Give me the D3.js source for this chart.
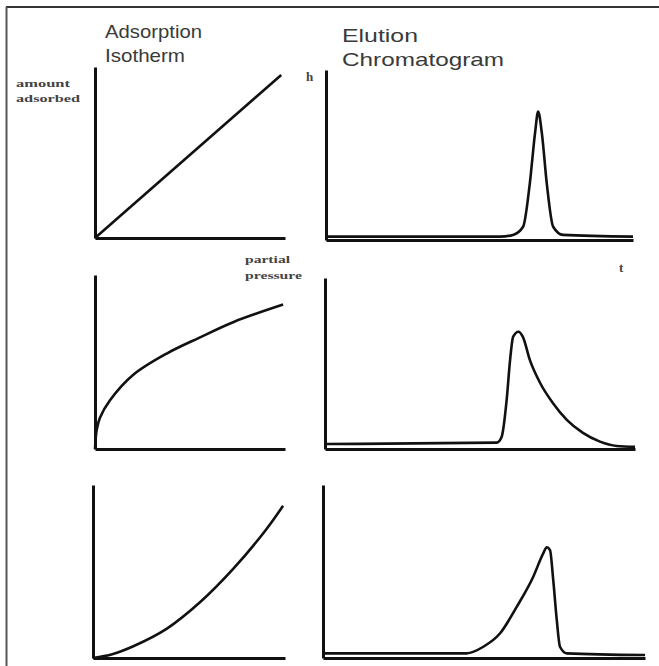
<!doctype html>
<html lang="en">
  <head>
    <meta charset="UTF-8" />
    <title>Adsorption isotherms and elution chromatograms</title>
    <style>
      body { margin: 0; background: #fff; }
      .axis path.domain { stroke: #111; stroke-width: 3; }
      .curve { fill: none; stroke: #111; stroke-width: 2.6; stroke-linejoin: round; }
    </style>
  </head>
  <body>
    <script src="https://d3js.org/d3.v7.min.js"></script>
    <script>
      /* global d3 */

      // isotherms: [partial pressure, amount adsorbed], both as fraction of axis length
      const isoLinear = [[0, 0], [0.98, 0.953]];
      const isoLangmuir = [
        [0, 0], [0.009, 0.11], [0.026, 0.18], [0.079, 0.28], [0.2, 0.425],
        [0.38, 0.55], [0.55, 0.64], [0.73, 0.73], [0.99, 0.83]
      ];
      const isoConvex = [
        [0, 0], [0.1, 0.022], [0.21, 0.068], [0.385, 0.17], [0.56, 0.325],
        [0.73, 0.515], [0.9, 0.74], [0.99, 0.88]
      ];

      // chromatograms: [t, h]
      const peakSymmetric = [
        [0, 0.02], [0.567, 0.02], [0.609, 0.03], [0.642, 0.078], [0.664, 0.335],
        [0.681, 0.63], [0.691, 0.755], [0.703, 0.63], [0.719, 0.335],
        [0.74, 0.078], [0.772, 0.03], [1.0, 0.02]
      ];
      const peakTailing = [
        [0, 0.029], [0.554, 0.037], [0.57, 0.072], [0.586, 0.287], [0.597, 0.52],
        [0.607, 0.657], [0.624, 0.686], [0.638, 0.657], [0.661, 0.52],
        [0.694, 0.386], [0.735, 0.269], [0.78, 0.17], [0.832, 0.094],
        [0.887, 0.043], [0.941, 0.018], [1.0, 0.013]
      ];
      const peakFronting = [
        [0, 0.027], [0.446, 0.027], [0.498, 0.065], [0.55, 0.143], [0.602, 0.297],
        [0.653, 0.47], [0.684, 0.605], [0.695, 0.64], [0.705, 0.624],
        [0.715, 0.451], [0.726, 0.22], [0.736, 0.065], [0.757, 0.027], [1.0, 0.017]
      ];

      const columnTitles = [["Adsorption", "Isotherm"], ["Elution", "Chromatogram"]];
      const yLabelIso = ["amount", "adsorbed"];
      const xLabelIso = ["partial", "pressure"];
      const yLabelChrom = "h";
      const xLabelChrom = "t";

      const width = 659, height = 666;

      const svg = d3.select("body").append("svg")
        .attr("width", width)
        .attr("height", height);

      // frame (only top and left edges are visible in the cropped figure)
      svg.append("line").attr("x1", 6).attr("x2", width).attr("y1", 7).attr("y2", 7)
        .attr("stroke", "#333").attr("stroke-width", 2);
      svg.append("line").attr("x1", 6.5).attr("x2", 6.5).attr("y1", 7).attr("y2", height)
        .attr("stroke", "#555").attr("stroke-width", 2);

      // box = [left, right, top, bottom]
      const panels = [
        { data: isoLinear, box: [95, 285, 67, 238], curve: d3.curveLinear },
        { data: peakSymmetric, box: [326, 633, 70, 240], curve: d3.curveMonotoneX },
        { data: isoLangmuir, box: [95, 285, 275, 449], curve: d3.curveCatmullRom },
        { data: peakTailing, box: [325, 635, 278, 449], curve: d3.curveMonotoneX },
        { data: isoConvex, box: [93, 285, 485, 658], curve: d3.curveCatmullRom },
        { data: peakFronting, box: [323, 645, 485, 658], curve: d3.curveMonotoneX }
      ];

      panels.forEach((p) => {
        const [x0, x1, top, bottom] = p.box;
        const x = d3.scaleLinear().domain([0, 1]).range([x0, x1]);
        const y = d3.scaleLinear().domain([0, 1]).range([bottom, top]);
        const g = svg.append("g");

        g.append("g").attr("class", "axis")
          .attr("transform", `translate(0,${bottom})`)
          .call(d3.axisBottom(x).tickValues([]).tickSizeOuter(0));
        g.append("g").attr("class", "axis")
          .attr("transform", `translate(${x0},0)`)
          .call(d3.axisLeft(y).tickValues([]).tickSizeOuter(0));

        const line = d3.line()
          .x((d) => x(d[0]))
          .y((d) => y(d[1]))
          .curve(p.curve);
        g.append("path").attr("class", "curve").attr("d", line(p.data));
      });

      // column titles: [x, baseline, width line 1, width line 2]
      const titleFont = "'Liberation Sans', Arial, sans-serif";
      [[105, 38, 97, 80], [342, 42, 76, 162]].forEach(([tx, ty, w1, w2], i) => {
        const t = svg.append("text")
          .attr("x", tx).attr("y", ty)
          .attr("font-family", titleFont)
          .attr("font-size", 19)
          .attr("fill", "#3a3a3a");
        t.append("tspan").attr("x", tx)
          .attr("textLength", w1).attr("lengthAdjust", "spacingAndGlyphs")
          .text(columnTitles[i][0]);
        t.append("tspan").attr("x", tx).attr("dy", 24)
          .attr("textLength", w2).attr("lengthAdjust", "spacingAndGlyphs")
          .text(columnTitles[i][1]);
      });

      // small axis labels
      const labelStyle = (sel) => sel
        .attr("font-family", "'Liberation Serif', 'Times New Roman', serif")
        .attr("font-weight", "bold")
        .attr("font-size", 10)
        .attr("fill", "#444")
        .attr("lengthAdjust", "spacingAndGlyphs");

      svg.append("text").attr("x", 16).attr("y", 87).attr("textLength", 54)
        .call(labelStyle).text(yLabelIso[0]);
      svg.append("text").attr("x", 16).attr("y", 102).attr("textLength", 64)
        .call(labelStyle).text(yLabelIso[1]);
      svg.append("text").attr("x", 245).attr("y", 263).attr("textLength", 45)
        .call(labelStyle).text(xLabelIso[0]);
      svg.append("text").attr("x", 245).attr("y", 279).attr("textLength", 57)
        .call(labelStyle).text(xLabelIso[1]);
      svg.append("text").attr("x", 306).attr("y", 81).attr("font-size", 13)
        .call(labelStyle).attr("font-size", 13).text(yLabelChrom);
      svg.append("text").attr("x", 619).attr("y", 272)
        .call(labelStyle).attr("font-size", 13).text(xLabelChrom);
    </script>
  </body>
</html>
